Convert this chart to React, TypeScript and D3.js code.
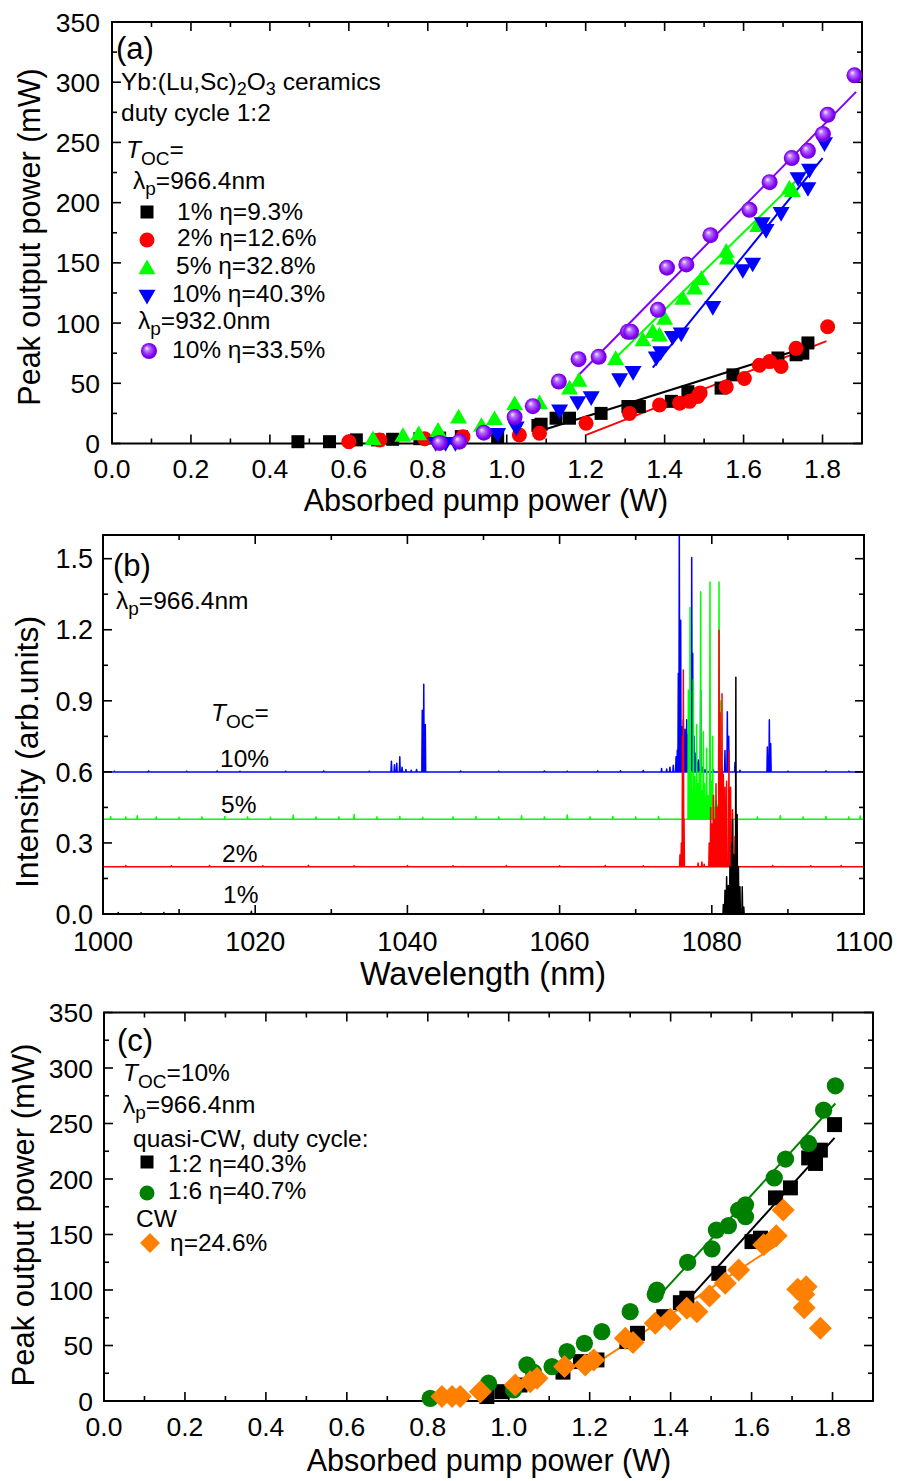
import React from "react";
import * as d3 from "d3";

const FONT = "'Liberation Sans', Arial, Helvetica, sans-serif";

// ---------- axis ticks ----------
const pumpTicks = [0, 0.2, 0.4, 0.6, 0.8, 1.0, 1.2, 1.4, 1.6, 1.8];
const pumpMinor = [0.1, 0.3, 0.5, 0.7, 0.9, 1.1, 1.3, 1.5, 1.7];
const powerTicks = [0, 50, 100, 150, 200, 250, 300, 350];
const powerMinor = [25, 75, 125, 175, 225, 275, 325];
const wlTicks = [1000, 1020, 1040, 1060, 1080, 1100];
const wlMinor = [1010, 1030, 1050, 1070, 1090];
const intTicks = [0, 0.3, 0.6, 0.9, 1.2, 1.5];
const intMinor = [0.15, 0.45, 0.75, 1.05, 1.35];

// ---------- panel (a) data: [absorbed pump W, peak power mW] ----------
const a_oc1: [number, number][] = [
  [0.471, 1.5], [0.551, 1.5], [0.619, 3], [0.673, 3], [0.711, 3.5], [0.78, 4], [0.83, 4.5],
  [0.885, 5.7], [0.977, 5.7], [1.079, 15], [1.087, 16], [1.125, 21], [1.159, 21], [1.239, 25],
  [1.307, 30.7], [1.336, 30.7], [1.417, 35], [1.459, 43], [1.543, 46], [1.573, 57],
  [1.687, 71], [1.733, 73.7], [1.75, 75], [1.763, 83.5],
];
const a_oc2: [number, number][] = [
  [0.6, 1.5], [0.678, 3], [0.792, 4], [0.889, 5.7], [1.032, 7], [1.083, 8.5], [1.201, 16.8],
  [1.311, 25], [1.387, 32], [1.438, 33.5], [1.463, 35], [1.484, 39], [1.49, 42], [1.556, 47],
  [1.602, 54], [1.64, 65], [1.666, 68], [1.695, 64], [1.733, 79], [1.813, 97],
];
const a_oc5: [number, number][] = [
  [0.661, 3], [0.737, 5.7], [0.777, 7], [0.826, 10], [0.878, 21], [0.936, 14], [0.969, 19.6],
  [1.02, 32], [1.083, 32.7], [1.159, 45], [1.183, 51.5], [1.276, 69.6], [1.345, 85], [1.37, 92],
  [1.387, 89], [1.4, 103], [1.446, 119.6], [1.476, 128], [1.493, 136], [1.556, 158.5],
  [1.559, 153], [1.636, 180], [1.716, 211], [1.724, 209],
];
const a_oc10: [number, number][] = [
  [0.82, 1], [0.845, 1], [0.87, 1], [0.977, 8.5], [1.024, 14], [1.134, 28], [1.18, 35],
  [1.214, 39], [1.286, 54], [1.32, 60], [1.379, 72], [1.39, 76.5], [1.42, 89], [1.442, 92],
  [1.522, 114], [1.598, 144.6], [1.623, 150], [1.647, 183.5], [1.657, 178], [1.695, 192],
  [1.738, 221], [1.763, 212.7], [1.767, 228], [1.805, 250],
];
const a_oc10_932: [number, number][] = [
  [0.83, 0.5], [0.88, 1.5], [0.942, 9], [1.02, 22], [1.066, 31], [1.132, 51.5], [1.182, 70],
  [1.233, 72], [1.307, 92.7], [1.315, 92.7], [1.383, 111], [1.406, 146], [1.455, 148.7],
  [1.516, 173], [1.615, 194], [1.666, 217], [1.722, 237], [1.763, 243], [1.801, 257],
  [1.813, 273], [1.881, 305.7],
];
// linear fits (start / end points)
const a_fit1: [number, number][] = [[1.08, 10], [1.77, 81]];
const a_fit2: [number, number][] = [[1.2, 7], [1.81, 85]];
const a_fit5: [number, number][] = [[1.26, 66], [1.77, 230]];
const a_fit10: [number, number][] = [[1.37, 63], [1.8, 237]];
const a_fit932: [number, number][] = [[1.18, 56], [1.885, 292]];

// ---------- panel (b) spectra: peaks [wavelength nm, intensity] ----------
const specBaselines = [0.6, 0.4, 0.2, 0];
const spec10: [number, number][] = [
  [1001.5, 0.603], [1006, 0.604], [1011, 0.603], [1015, 0.604], [1018, 0.603], [1024, 0.603],
  [1029, 0.604], [1035, 0.603], [1037.9, 0.645], [1038.3, 0.63], [1038.6, 0.636], [1039.0, 0.664],
  [1039.3, 0.62], [1039.8, 0.61], [1040.5, 0.607], [1041.2, 0.61], [1041.95, 0.86], [1042.15, 0.97],
  [1042.35, 0.8], [1047, 0.604], [1052, 0.603], [1058, 0.604], [1061, 0.603], [1065, 0.604],
  [1068, 0.605], [1071, 0.606], [1073.4, 0.614], [1074.07, 0.612], [1074.5, 0.62], [1074.94, 0.628],
  [1075.3, 0.664], [1075.47, 0.692], [1075.6, 1.016], [1075.73, 1.65], [1075.91, 1.24],
  [1076.08, 0.79], [1076.18, 0.7], [1076.26, 0.82], [1076.38, 0.72], [1076.48, 0.78],
  [1076.6, 0.7], [1076.7, 0.82], [1076.82, 0.68], [1076.92, 0.76],
  [1077.14, 0.65], [1077.36, 1.505], [1077.49, 1.1], [1077.58, 0.7], [1077.66, 0.75],
  [1077.8, 0.66], [1077.92, 0.68], [1078.05, 0.64],
  [1078.23, 0.65], [1078.54, 0.945], [1078.8, 0.62], [1079.1, 0.61], [1079.76, 0.607],
  [1080.2, 0.609], [1080.95, 1.03], [1081.3, 0.62], [1081.73, 0.69], [1082.04, 0.854],
  [1082.22, 0.75], [1083.05, 0.64], [1083.7, 0.607], [1087.3, 0.705], [1087.56, 0.82],
  [1087.74, 0.72], [1090, 0.603], [1095, 0.604], [1098, 0.603],
];
const spec5: [number, number][] = [
  [1001, 0.412], [1003, 0.41], [1004.5, 0.415], [1007, 0.41], [1010, 0.408], [1013, 0.41],
  [1016, 0.412], [1019, 0.41], [1022, 0.408], [1025, 0.418], [1028, 0.41], [1031, 0.41],
  [1033, 0.42], [1036, 0.41], [1039, 0.412], [1042, 0.408], [1046, 0.41], [1049, 0.412],
  [1052, 0.41], [1055, 0.415], [1058, 0.41], [1061, 0.418], [1064, 0.41], [1067, 0.412],
  [1070, 0.41], [1073, 0.412], [1076.92, 0.945], [1077.03, 0.55], [1077.14, 1.294],
  [1077.3, 0.6], [1077.45, 0.52], [1077.58, 0.99], [1077.75, 0.58], [1077.88, 0.5],
  [1078.01, 0.8], [1078.2, 0.55], [1078.35, 0.6], [1078.54, 1.36], [1078.7, 0.52],
  [1078.89, 0.77], [1079.05, 0.55], [1079.32, 0.7], [1079.5, 0.5], [1079.76, 1.402],
  [1079.95, 0.56], [1080.11, 0.75], [1080.25, 0.5], [1080.42, 0.45], [1080.6, 0.48],
  [1080.73, 0.46], [1080.95, 1.402], [1081.17, 0.9], [1081.4, 0.42], [1086, 0.41],
  [1089, 0.415], [1092, 0.41], [1095, 0.412], [1098, 0.41], [1099.5, 0.414],
];
const spec2: [number, number][] = [
  [1003, 0.205], [1009, 0.204], [1014, 0.205], [1021, 0.204], [1027, 0.206], [1033, 0.204],
  [1040, 0.205], [1046, 0.204], [1053, 0.205], [1060, 0.204], [1066, 0.205], [1071, 0.204],
  [1075.82, 0.25], [1076.0, 0.3], [1076.15, 0.75], [1076.26, 1.03], [1076.35, 0.4],
  [1078.2, 0.215], [1078.7, 0.22], [1079.0, 0.21], [1079.66, 0.3], [1079.85, 0.45],
  [1080.02, 0.38], [1080.2, 0.5], [1080.37, 0.4], [1080.55, 0.55], [1080.73, 0.45],
  [1080.95, 1.198], [1081.08, 0.85], [1081.2, 0.6], [1081.34, 0.93], [1081.52, 0.59],
  [1081.73, 0.535], [1081.95, 0.56], [1082.25, 0.69], [1082.47, 0.535], [1082.73, 0.44],
  [1083.05, 0.326], [1083.27, 0.25], [1088, 0.205], [1093, 0.204], [1097, 0.205],
];
const spec1: [number, number][] = [
  [1002, 0.006], [1005, 0.005], [1008, 0.006], [1019.5, 0.012], [1030, 0.005],
  [1081.52, 0.04], [1081.73, 0.1], [1081.95, 0.157], [1082.17, 0.12], [1082.38, 0.2],
  [1082.6, 0.3], [1082.73, 0.397], [1082.9, 0.25], [1083.16, 1.0], [1083.33, 0.42],
  [1083.5, 0.2], [1083.7, 0.115], [1084.0, 0.115], [1084.2, 0.03],
];

// ---------- panel (c) data ----------
const c_qcw12: [number, number][] = [
  [0.946, 4], [0.983, 8.4], [1.028, 14.4], [1.134, 26], [1.177, 35.5], [1.218, 37],
  [1.292, 53.5], [1.318, 61], [1.383, 76], [1.424, 88.6], [1.44, 92.6], [1.519, 115],
  [1.601, 143.6], [1.622, 146.7], [1.659, 183], [1.696, 192], [1.741, 219], [1.758, 214],
  [1.77, 226], [1.805, 249],
];
const c_qcw16: [number, number][] = [
  [0.806, 2.4], [0.95, 16], [1.012, 10], [1.045, 32.5], [1.061, 26], [1.107, 31], [1.144, 44.5],
  [1.187, 52], [1.23, 62.5], [1.3, 80.5], [1.362, 96], [1.366, 100], [1.442, 125], [1.502, 137],
  [1.513, 154], [1.543, 158], [1.568, 172], [1.585, 176.7], [1.585, 166], [1.656, 201],
  [1.684, 218], [1.741, 232], [1.778, 262], [1.807, 284],
];
const c_cw: [number, number][] = [
  [0.835, 4], [0.86, 4], [0.88, 4], [0.93, 8.4], [1.016, 14.4], [1.053, 17.4], [1.07, 20.5],
  [1.138, 31], [1.189, 32.5], [1.21, 37], [1.288, 56.5], [1.307, 52.6], [1.362, 70],
  [1.399, 73.7], [1.44, 83.6], [1.465, 80.5], [1.496, 94.7], [1.535, 106], [1.568, 118],
  [1.63, 140.7], [1.661, 148.8], [1.678, 172], [1.714, 100.7], [1.735, 103], [1.729, 96],
  [1.73, 84], [1.77, 65.5],
];
const c_fit12: [number, number][] = [[1.44, 90], [1.805, 237]];
const c_fit16: [number, number][] = [[1.37, 94], [1.807, 268]];
const c_fitcw: [number, number][] = [[1.21, 32.5], [1.663, 140.7]];

// ---------- colors ----------
const BLACK = "#000000";
const RED = "#ff0000";
const LIME = "#00ff00";
const BLUE = "#0000ff";
const PURPLE = "#8000ff";
const DKGREEN = "#008000";
const ORANGE = "#ff8000";

type Sc = d3.ScaleLinear<number, number>;

function Marker({ kind, x, y, color, s = 1 }: { kind: string; x: number; y: number; color: string; s?: number }) {
  const t = `translate(${x},${y}) scale(${s})`;
  switch (kind) {
    case "square":
      return <rect transform={t} x={-6.5} y={-6.5} width={13} height={13} fill={color} />;
    case "circle":
      return <circle transform={t} r={7.5} fill={color} />;
    case "up":
      return <path transform={t} d="M0,-9.5L8.5,5.2L-8.5,5.2Z" fill={color} />;
    case "down":
      return <path transform={t} d="M0,9.5L8.5,-5.2L-8.5,-5.2Z" fill={color} />;
    case "sphere":
      return <circle transform={t} r={8} fill="url(#sphereGrad)" />;
    case "diamond":
      return <path transform={t} d="M0,-10L10,0L0,10L-10,0Z" fill={color} />;
    default:
      return null;
  }
}

function Frame({
  xs, ys, xMajor, xMinor, yMajor, yMinor, xFmt, yFmt, xLabelY, yLabelX, tickSize,
}: {
  xs: Sc; ys: Sc; xMajor: number[]; xMinor: number[]; yMajor: number[]; yMinor: number[];
  xFmt: (v: number) => string; yFmt: (v: number) => string; xLabelY: number; yLabelX: number;
  tickSize: number;
}) {
  const [x0, x1] = xs.range();
  const [y0, y1] = ys.range();
  const MJ = 9, MN = 5;
  const els: React.ReactNode[] = [];
  xMajor.forEach((v, i) => {
    const x = xs(v);
    els.push(<line key={`xb${i}`} x1={x} x2={x} y1={y0} y2={y0 - MJ} />);
    els.push(<line key={`xt${i}`} x1={x} x2={x} y1={y1} y2={y1 + MJ} />);
  });
  xMinor.forEach((v, i) => {
    const x = xs(v);
    els.push(<line key={`xbm${i}`} x1={x} x2={x} y1={y0} y2={y0 - MN} />);
    els.push(<line key={`xtm${i}`} x1={x} x2={x} y1={y1} y2={y1 + MN} />);
  });
  yMajor.forEach((v, i) => {
    const y = ys(v);
    els.push(<line key={`yl${i}`} x1={x0} x2={x0 + MJ} y1={y} y2={y} />);
    els.push(<line key={`yr${i}`} x1={x1} x2={x1 - MJ} y1={y} y2={y} />);
  });
  yMinor.forEach((v, i) => {
    const y = ys(v);
    els.push(<line key={`ylm${i}`} x1={x0} x2={x0 + MN} y1={y} y2={y} />);
    els.push(<line key={`yrm${i}`} x1={x1} x2={x1 - MN} y1={y} y2={y} />);
  });
  return (
    <g>
      <g stroke="#000" strokeWidth={1.6}>{els}</g>
      <rect x={x0} y={y1} width={x1 - x0} height={y0 - y1} fill="none" stroke="#000" strokeWidth={2} />
      <g fontFamily={FONT} fontSize={tickSize} fill="#000">
        {xMajor.map((v, i) => (
          <text key={`xl${i}`} x={xs(v)} y={xLabelY} textAnchor="middle">{xFmt(v)}</text>
        ))}
        {yMajor.map((v, i) => (
          <text key={`yl${i}`} x={yLabelX} y={ys(v) + tickSize * 0.36} textAnchor="end">{yFmt(v)}</text>
        ))}
      </g>
    </g>
  );
}

function spikePath(xs: Sc, ys: Sc, base: number, peaks: [number, number][]) {
  const w = 0.055;
  const pts: [number, number][] = [[1000, base]];
  [...peaks].sort((a, b) => a[0] - b[0]).forEach(([wl, h]) => {
    pts.push([wl - w, base], [wl, h], [wl + w, base]);
  });
  pts.push([1100, base]);
  const line = d3.line<[number, number]>().x((d) => xs(d[0])).y((d) => ys(d[1]));
  return line(pts) || "";
}

function FitLine({ xs, ys, pts, color }: { xs: Sc; ys: Sc; pts: [number, number][]; color: string }) {
  const line = d3.line<[number, number]>().x((d) => xs(d[0])).y((d) => ys(d[1]));
  return <path d={line(pts) || ""} stroke={color} strokeWidth={2} fill="none" />;
}

function Points({ xs, ys, data, kind, color, s = 1 }: {
  xs: Sc; ys: Sc; data: [number, number][]; kind: string; color: string; s?: number;
}) {
  return (
    <g>
      {data.map((d, i) => (
        <Marker key={i} kind={kind} x={xs(d[0])} y={ys(d[1])} color={color} s={s} />
      ))}
    </g>
  );
}

const fmt1 = d3.format(".1f");
const fmt0 = d3.format("d");

function Sub({ children, d = 6, fs = 19 }: { children: React.ReactNode; d?: number; fs?: number }) {
  return <tspan dy={d} fontSize={fs}>{children}</tspan>;
}

export default function App() {
  const LEG = 24.5;
  const CS = 1.15; // marker scale in panel (c)

  const xa = d3.scaleLinear().domain([0, 1.9]).range([112, 862]);
  const ya = d3.scaleLinear().domain([0, 350]).range([443.5, 22]);
  const xb = d3.scaleLinear().domain([1000, 1100]).range([103, 864]);
  const yb = d3.scaleLinear().domain([0, 1.6]).range([914, 535]);
  const xc = d3.scaleLinear().domain([0, 1.9]).range([104, 873]);
  const yc = d3.scaleLinear().domain([0, 350]).range([1401, 1012.5]);

  const spectra: { peaks: [number, number][]; color: string }[] = [
    { peaks: spec10, color: BLUE },
    { peaks: spec5, color: LIME },
    { peaks: spec2, color: RED },
    { peaks: spec1, color: BLACK },
  ];

  return (
    <svg width={901} height={1481} style={{ position: "absolute", left: 0, top: 0, background: "#fff" }}>
      <defs>
        <radialGradient id="sphereGrad" cx="50%" cy="50%" r="55%" fx="35%" fy="32%">
          <stop offset="0%" stopColor="#f6ecff" />
          <stop offset="30%" stopColor="#b46cff" />
          <stop offset="75%" stopColor="#7f00f0" />
          <stop offset="100%" stopColor="#6a00d0" />
        </radialGradient>
        <clipPath id="clipB">
          <rect x={103} y={535} width={761} height={379} />
        </clipPath>
      </defs>
      <rect x={0} y={0} width={901} height={1481} fill="#fff" />

      {/* ================= Panel (a) ================= */}
      <Frame xs={xa} ys={ya} xMajor={pumpTicks} xMinor={pumpMinor} yMajor={powerTicks} yMinor={powerMinor}
        xFmt={fmt1} yFmt={fmt0} xLabelY={478} yLabelX={100} tickSize={26.5} />
      <FitLine xs={xa} ys={ya} pts={a_fit1} color={BLACK} />
      <FitLine xs={xa} ys={ya} pts={a_fit2} color={RED} />
      <FitLine xs={xa} ys={ya} pts={a_fit5} color={LIME} />
      <FitLine xs={xa} ys={ya} pts={a_fit10} color={BLUE} />
      <FitLine xs={xa} ys={ya} pts={a_fit932} color={PURPLE} />
      <Points xs={xa} ys={ya} data={a_oc1} kind="square" color={BLACK} />
      <Points xs={xa} ys={ya} data={a_oc2} kind="circle" color={RED} />
      <Points xs={xa} ys={ya} data={a_oc5} kind="up" color={LIME} />
      <Points xs={xa} ys={ya} data={a_oc10} kind="down" color={BLUE} />
      <Points xs={xa} ys={ya} data={a_oc10_932} kind="sphere" color={PURPLE} />

      <g fontFamily={FONT} fill="#000">
        <text x={116} y={59} fontSize={31}>(a)</text>
        <text x={121} y={90} fontSize={LEG}>
          Yb:(Lu,Sc)<Sub d={5} fs={18}>2</Sub><tspan dy={-5}>O</tspan><Sub d={5} fs={18}>3</Sub>
          <tspan dy={-5}> ceramics</tspan>
        </text>
        <text x={121} y={121} fontSize={LEG}>duty cycle 1:2</text>
        <text x={126} y={158} fontSize={LEG}>
          <tspan fontStyle="italic">T</tspan><Sub d={7}>OC</Sub><tspan dy={-7}>=</tspan>
        </text>
        <text x={133} y={189} fontSize={LEG}>
          λ<Sub>p</Sub><tspan dy={-6}>=966.4nm</tspan>
        </text>
        <text x={177} y={220} fontSize={LEG}>1% η=9.3%</text>
        <text x={177} y={246} fontSize={LEG}>2% η=12.6%</text>
        <text x={176} y={274} fontSize={LEG}>5% η=32.8%</text>
        <text x={172} y={302} fontSize={LEG}>10% η=40.3%</text>
        <text x={138} y={329} fontSize={LEG}>
          λ<Sub>p</Sub><tspan dy={-6}>=932.0nm</tspan>
        </text>
        <text x={172} y={358} fontSize={LEG}>10% η=33.5%</text>
      </g>
      <Marker kind="square" x={147} y={212} color={BLACK} />
      <Marker kind="circle" x={147} y={240} color={RED} />
      <Marker kind="up" x={147} y={269} color={LIME} />
      <Marker kind="down" x={147} y={295} color={BLUE} />
      <Marker kind="sphere" x={149} y={351} color={PURPLE} />

      <text x={486} y={511} fontFamily={FONT} fontSize={30.5} textAnchor="middle">Absorbed pump power (W)</text>
      <text transform="translate(40,237) rotate(-90)" fontFamily={FONT} fontSize={30.5} textAnchor="middle">
        Peak output power (mW)
      </text>

      {/* ================= Panel (b) ================= */}
      <g clipPath="url(#clipB)">
        {spectra.map((s, i) => (
          <path key={i} d={spikePath(xb, yb, specBaselines[i], s.peaks)} stroke={s.color} strokeWidth={1.5}
            fill="none" strokeLinejoin="round" />
        ))}
      </g>
      <Frame xs={xb} ys={yb} xMajor={wlTicks} xMinor={wlMinor} yMajor={intTicks} yMinor={intMinor}
        xFmt={fmt0} yFmt={fmt1} xLabelY={951} yLabelX={93} tickSize={27} />
      <g fontFamily={FONT} fill="#000">
        <text x={113} y={576} fontSize={31}>(b)</text>
        <text x={116} y={609} fontSize={LEG}>
          λ<Sub>p</Sub><tspan dy={-6}>=966.4nm</tspan>
        </text>
        <text x={211} y={721} fontSize={LEG}>
          <tspan fontStyle="italic">T</tspan><Sub d={7}>OC</Sub><tspan dy={-7}>=</tspan>
        </text>
        <text x={220} y={767} fontSize={LEG}>10%</text>
        <text x={221} y={813} fontSize={LEG}>5%</text>
        <text x={222} y={862} fontSize={LEG}>2%</text>
        <text x={223} y={903} fontSize={LEG}>1%</text>
      </g>
      <text x={483} y={985} fontFamily={FONT} fontSize={32.5} textAnchor="middle">Wavelength (nm)</text>
      <text transform="translate(38,752) rotate(-90)" fontFamily={FONT} fontSize={32} textAnchor="middle">
        Intensity (arb.units)
      </text>

      {/* ================= Panel (c) ================= */}
      <Frame xs={xc} ys={yc} xMajor={pumpTicks} xMinor={pumpMinor} yMajor={powerTicks} yMinor={powerMinor}
        xFmt={fmt1} yFmt={fmt0} xLabelY={1436} yLabelX={93} tickSize={26.5} />
      <FitLine xs={xc} ys={yc} pts={c_fit12} color={BLACK} />
      <FitLine xs={xc} ys={yc} pts={c_fit16} color={DKGREEN} />
      <FitLine xs={xc} ys={yc} pts={c_fitcw} color={ORANGE} />
      <Points xs={xc} ys={yc} data={c_qcw12} kind="square" color={BLACK} s={CS} />
      <Points xs={xc} ys={yc} data={c_qcw16} kind="circle" color={DKGREEN} s={CS} />
      <Points xs={xc} ys={yc} data={c_cw} kind="diamond" color={ORANGE} s={CS} />
      <g fontFamily={FONT} fill="#000">
        <text x={117} y={1051} fontSize={31}>(c)</text>
        <text x={123} y={1081} fontSize={LEG}>
          <tspan fontStyle="italic">T</tspan><Sub d={7}>OC</Sub><tspan dy={-7}>=10%</tspan>
        </text>
        <text x={123} y={1113} fontSize={LEG}>
          λ<Sub>p</Sub><tspan dy={-6}>=966.4nm</tspan>
        </text>
        <text x={133} y={1147} fontSize={LEG}>quasi-CW, duty cycle:</text>
        <text x={168} y={1172} fontSize={LEG}>1:2 η=40.3%</text>
        <text x={168} y={1199} fontSize={LEG}>1:6 η=40.7%</text>
        <text x={136} y={1227} fontSize={LEG}>CW</text>
        <text x={170} y={1251} fontSize={LEG}>η=24.6%</text>
      </g>
      <Marker kind="square" x={147} y={1162} color={BLACK} />
      <Marker kind="circle" x={147} y={1193} color={DKGREEN} />
      <Marker kind="diamond" x={150} y={1243} color={ORANGE} />

      <text x={489} y={1471} fontFamily={FONT} fontSize={30.5} textAnchor="middle">Absorbed pump power (W)</text>
      <text transform="translate(34,1215) rotate(-90)" fontFamily={FONT} fontSize={31} textAnchor="middle">
        Peak output power (mW)
      </text>
    </svg>
  );
}
